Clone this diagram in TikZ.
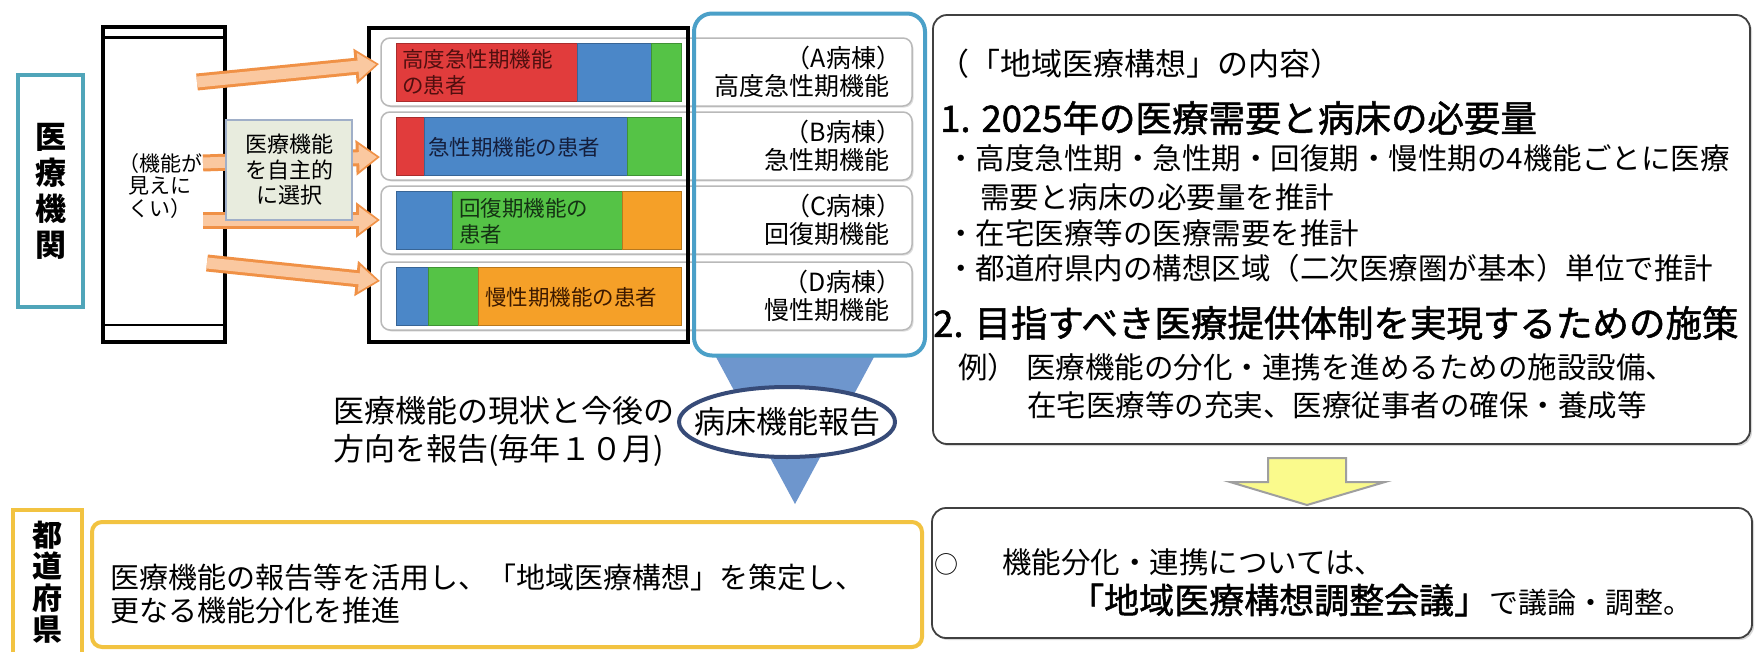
\documentclass[tikz,border=0pt]{standalone}
\usepackage{fontspec}
\setmainfont{Noto Sans CJK JP}
\newfontfamily\headfont[FakeBold=1.4]{Noto Sans CJK JP}
\usetikzlibrary{arrows.meta,shapes.geometric,shadows}

\definecolor{labelteal}{RGB}{80,165,185}
\definecolor{frameteal}{RGB}{75,160,200}
\definecolor{barred}{RGB}{225,60,60}
\definecolor{barblue}{RGB}{75,135,200}
\definecolor{bargreen}{RGB}{85,195,70}
\definecolor{barorange}{RGB}{245,160,40}
\definecolor{arrowfill}{RGB}{250,200,160}
\definecolor{arrowline}{RGB}{240,145,70}
\definecolor{choosefill}{RGB}{232,236,222}
\definecolor{chooseline}{RGB}{160,175,200}
\definecolor{prefline}{RGB}{242,195,65}
\definecolor{funnelblue}{RGB}{110,150,205}
\definecolor{reportline}{RGB}{55,75,120}
\definecolor{nextfill}{RGB}{250,250,140}

\begin{document}
\begin{tikzpicture}[x=1pt,y=-1pt,
  rowbox/.style={draw=gray!55,line width=1.5,rounded corners=9,fill=white,minimum width=531,minimum height=68,inner sep=0,
    drop shadow={opacity=.25,shadow xshift=1.5pt,shadow yshift=-1.5pt}},
  seg/.style={fill=#1,draw=#1!75!black,line width=0.8},
  bartext/.style={anchor=west,align=left,inner sep=0,font=\fontsize{21.5}{26}\selectfont},
  wardlabel/.style={anchor=east,align=right,inner sep=0,font=\fontsize{25}{28}\selectfont},
  fatout/.style={draw=arrowline,line width=17,-{Triangle[length=24,width=34]}},
  fatin/.style={draw=arrowfill,line width=11,shorten >=3,-{Triangle[length=18,width=25]}},
  panel/.style={draw=black!75,line width=1.8,rounded corners=14,fill=white,inner sep=0,
    drop shadow={opacity=.3,shadow xshift=2pt,shadow yshift=-2pt}},
  body/.style={anchor=west,inner sep=0,font=\fontsize{29.5}{36}\selectfont},
  headline/.style={anchor=west,inner sep=0,font=\headfont\fontsize{36.5}{40}\selectfont},
  sidelabel/.style={line width=3.5,inner sep=0,align=center,font=\bfseries\fontsize{31}{36}\selectfont}]

\path[use as bounding box,fill=white] (0,0) rectangle (1756,651);

\node[sidelabel,draw=labelteal,minimum width=65,minimum height=232] (iryo) at (50.5,191) {医\\療\\機\\関};
\node[draw,line width=3.5,minimum width=122,minimum height=315,inner sep=0] (inst) at (164,184.5) {};
\draw[line width=2.5] ([yshift=-12pt]inst.north west) -- ([yshift=-12pt]inst.north east);
\draw[line width=2.5] ([yshift=19pt]inst.south west) -- ([yshift=19pt]inst.south east);
\node[align=center,inner sep=0,font=\fontsize{21}{22.5}\selectfont] (unseen) at (160,186) {（機能が\\見えに\\くい）};

\node[rowbox] (rowA) at (646.5,72) {};
\node[rowbox] (rowB) at (646.5,146) {};
\node[rowbox] (rowC) at (646.5,220) {};
\node[rowbox] (rowD) at (646.5,296) {};

\draw[seg=barred] (396,43) rectangle (577,101);
\draw[seg=barblue] (577,43) rectangle (651,101);
\draw[seg=bargreen] (651,43) rectangle (681,101);
\draw[seg=barred] (396,117) rectangle (424,175);
\draw[seg=barblue] (424,117) rectangle (627,175);
\draw[seg=bargreen] (627,117) rectangle (681,175);
\draw[seg=barblue] (396,191) rectangle (452,249);
\draw[seg=bargreen] (452,191) rectangle (622,249);
\draw[seg=barorange] (622,191) rectangle (681,249);
\draw[seg=barblue] (396,267) rectangle (428,325);
\draw[seg=bargreen] (428,267) rectangle (478,325);
\draw[seg=barorange] (478,267) rectangle (681,325);

\node[bartext,text={rgb,255:red,80;green,15;blue,15}] (patA) at (402,72) {高度急性期機能\\の患者};
\node[bartext,text={rgb,255:red,20;green,30;blue,60}] (patB) at (428,147) {急性期機能の患者};
\node[bartext,text={rgb,255:red,20;green,50;blue,20}] (patC) at (459,221) {回復期機能の\\患者};
\node[bartext,text={rgb,255:red,60;green,25;blue,0}] (patD) at (485,297) {慢性期機能の患者};

\node[draw,line width=3.5,minimum width=319,minimum height=314,inner sep=0] (wards) at (528.5,185) {};

\fill[funnelblue] (716,357) -- (874,357) -- (795,504) -- cycle;
\node[draw=frameteal,line width=4,rounded corners=18,minimum width=231,minimum height=342,inner sep=0] (funcs) at (809.5,184.5) {};

\node[wardlabel] (lblA) at (890,72) {（A病棟）\kern-.45em\\高度急性期機能};
\node[wardlabel] (lblB) at (890,146) {（B病棟）\kern-.45em\\急性期機能};
\node[wardlabel] (lblC) at (890,220) {（C病棟）\kern-.45em\\回復期機能};
\node[wardlabel] (lblD) at (890,296) {（D病棟）\kern-.45em\\慢性期機能};

\coordinate (o1) at (197,82);  \coordinate (p1) at (379,64);
\coordinate (o2) at (203,163); \coordinate (p2) at (380,157);
\coordinate (o3) at (203,220); \coordinate (p3) at (380,220);
\coordinate (o4) at (207,263); \coordinate (p4) at (380,281);
\foreach \i in {1,...,4}{
  \draw[fatout] (o\i) -- (p\i);
  \draw[fatin] (o\i) -- (p\i);
}

\node[draw=chooseline,fill=choosefill,line width=1.5,minimum width=126,minimum height=100,inner sep=0,
  align=center,font=\fontsize{22}{25.5}\selectfont] (choose) at (289,170) {医療機能\\を自主的\\に選択};

\node[ellipse,draw=reportline,line width=4,fill=white,minimum width=216,minimum height=70,inner xsep=-17pt,inner ysep=0,
  font=\fontsize{31}{31}\selectfont] (report) at (787,422) {病床機能報告};
\node[anchor=west,align=left,inner sep=0,font=\fontsize{31}{38}\selectfont] (reptxt) at (333,431)
  {医療機能の現状と今後の\\方向を報告(毎年１０月)};

\node[panel,minimum width=817,minimum height=429] (concept) at (1341.5,229.5) {};
\node[body,font=\fontsize{31}{36}\selectfont] (c0) at (938,64) {（「地域医療構想」の内容）};
\node[headline] (c1) at (940,118) {1. 2025年の医療需要と病床の必要量};
\node[body] (c2) at (946,158) {・高度急性期・急性期・回復期・慢性期の4機能ごとに医療};
\node[body] (c3) at (980,197) {需要と病床の必要量を推計};
\node[body] (c4) at (946,233) {・在宅医療等の医療需要を推計};
\node[body] (c5) at (946,268) {・都道府県内の構想区域（二次医療圏が基本）単位で推計};
\node[headline] (c6) at (933,323) {2. 目指すべき医療提供体制を実現するための施策};
\node[body] (c7) at (958,367) {例）\hspace{9pt}医療機能の分化・連携を進めるための施設設備、};
\node[body] (c8) at (1027,405) {在宅医療等の充実、医療従事者の確保・養成等};

\draw[draw=gray!75,line width=2,fill=nextfill] (1268,458) -- (1346,458) -- (1346,482) -- (1385,482)
  -- (1307,505) -- (1230,482) -- (1268,482) -- cycle;

\node[panel,minimum width=820,minimum height=130] (council) at (1342,573) {};
\node[body] (k1) at (934,562) {{\fontsize{24}{24}\selectfont ○}\hspace{44pt}機能分化・連携については、};
\node[body,font=\fontsize{29}{36}\selectfont] (k2) at (1069,600)
  {{\headfont\fontsize{35}{36}\selectfont 「地域医療構想調整会議」}で議論・調整。};

\node[sidelabel,draw=prefline,font=\bfseries\fontsize{30}{31.5}\selectfont,minimum width=69,minimum height=144] (pref) at (47.5,582) {都\\道\\府\\県};
\node[draw=prefline,line width=4,rounded corners=10,minimum width=830,minimum height=125,inner sep=0] (plan) at (507,584.5) {};
\node[anchor=west,align=left,inner sep=0,font=\fontsize{29}{33}\selectfont] (plantxt) at (110,593.5)
  {医療機能の報告等を活用し、「地域医療構想」を策定し、\\更なる機能分化を推進};

\end{tikzpicture}
\end{document}
